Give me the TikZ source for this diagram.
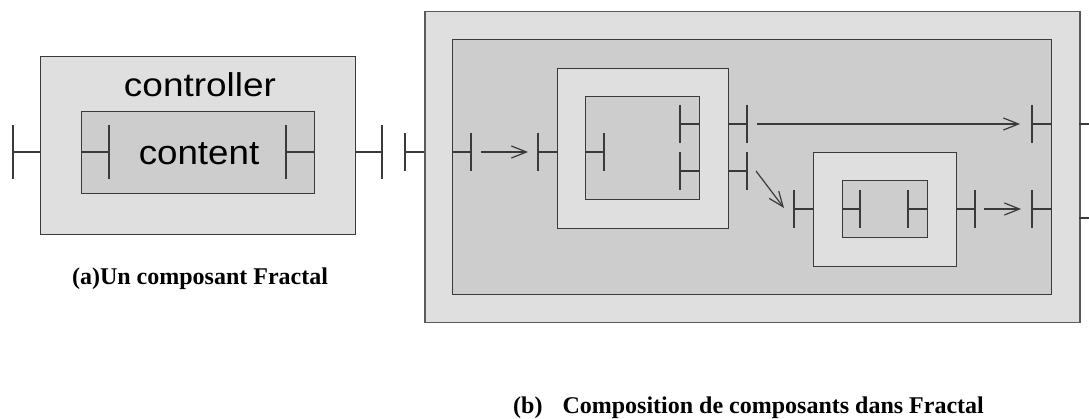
\documentclass[tikz,border=0pt]{standalone}
\usepackage{fontspec}
\setmainfont{Liberation Serif}
\newfontfamily\labelfont{Liberation Sans}
\usetikzlibrary{arrows.meta,calc}

\definecolor{ctrlfill}{HTML}{DFDFDF}
\definecolor{contfill}{HTML}{CDCDCD}
\definecolor{edge}{HTML}{3A3A3A}
\definecolor{outeredge}{HTML}{5A5A5A}

\tikzset{
  wire/.style={draw=edge, line width=1.2pt},
  ctrlbox/.style={rectangle, draw=edge, fill=ctrlfill, line width=1.2pt,
    inner sep=0pt, anchor=north west},
  contbox/.style={rectangle, draw=edge, fill=contfill, line width=1.2pt,
    inner sep=0pt, anchor=north west},
  link/.style={wire, -{Straight Barb[length=15pt,width=12pt,line width=1.2pt]}},
  % interface: a stub leaving the box edge, closed by a bar
  pics/port/.style args={#1/#2}{code={
    \draw[wire] (0,0) -- (#1,0);
    \draw[wire] (#1,-#2) -- (#1,#2);
    \coordinate (-bar) at (#1,0);
  }},
  caption/.style={font=\fontsize{24}{28}\selectfont\bfseries, inner sep=0pt}
}

\begin{document}
\begin{tikzpicture}[x=1pt, y=-1pt]
\useasboundingbox (0,0) rectangle (1089,419);

% ---------- (a) a single Fractal component ----------
\node[ctrlbox, minimum width=315pt, minimum height=178pt] (A) at (40,56) {};
\node[contbox, minimum width=233pt, minimum height=82pt] (Ac) at (81,111) {};
\node[font=\labelfont\fontsize{33}{36}\selectfont, inner sep=0pt, anchor=base]
  (ctrl) at (200,97) {\scalebox{1.12}[1]{controller}};
\node[font=\labelfont\fontsize{34}{36}\selectfont, inner sep=0pt, anchor=base]
  (cont) at (199,165) {\scalebox{1.08}[1]{content}};
\pic (aL)  at (40,152)  {port={-27/27}};
\pic (aiL) at (81,152)  {port={28/27}};
\pic (aiR) at (314,152) {port={-28/27}};
\pic (aR)  at (355,152) {port={27/27}};
\node[caption, anchor=base] (capA) at (200,285) {(a)Un composant Fractal};

% ---------- (b) composite component ----------
\node[ctrlbox, draw=outeredge, line width=1.5pt, minimum width=655pt, minimum height=311pt] (B) at (424,11) {};
\node[contbox, minimum width=599pt, minimum height=255pt] (Bc) at (452,39) {};

% first sub-component
\node[ctrlbox, minimum width=171pt, minimum height=160pt] (C1) at (557,68) {};
\node[contbox, minimum width=114pt, minimum height=103pt] (C1c) at (585,96) {};

% second sub-component
\node[ctrlbox, minimum width=143pt, minimum height=114pt] (C2) at (813,152) {};
\node[contbox, minimum width=85pt, minimum height=57pt] (C2c) at (842,180) {};

% interfaces of the composite
\pic (bL)   at (424,152)  {port={-19/19}};
\pic (biL)  at (452,152)  {port={19/19}};
\pic (biR1) at (1051,124) {port={-19/19}};
\pic (biR2) at (1051,209) {port={-19/19}};
\draw[wire] (1079,124) -- (1089,124);
\draw[wire] (1079,218) -- (1089,218);

% interfaces of the first sub-component
\pic (c1L)   at (557,152) {port={-19/19}};
\pic (c1iL)  at (585,152) {port={19/19}};
\pic (c1iR1) at (699,124) {port={-19/19}};
\pic (c1iR2) at (699,171) {port={-19/19}};
\pic (c1R1)  at (728,124) {port={19/19}};
\pic (c1R2)  at (728,171) {port={19/19}};

% interfaces of the second sub-component
\pic (c2L)  at (813,209) {port={-19/19}};
\pic (c2iL) at (842,209) {port={18/19}};
\pic (c2iR) at (927,209) {port={-19/19}};
\pic (c2R)  at (956,209) {port={19/19}};

% bindings
\draw[link, shorten <=10pt, shorten >=10pt] (biL-bar) -- (c1L-bar);
\draw[link, shorten <=10pt, shorten >=12pt] (c1R1-bar) -- (biR1-bar);
\draw[link] ($(c1R2-bar)+(9,0)$) -- ($(c2L-bar)+(-10,-1)$);
\draw[link, shorten <=9pt, shorten >=11pt] (c2R-bar) -- (biR2-bar);

\node[caption, anchor=base west] (capB) at (513,413)
  {(b)\hspace{20pt}Composition de composants dans Fractal};
\end{tikzpicture}
\end{document}
